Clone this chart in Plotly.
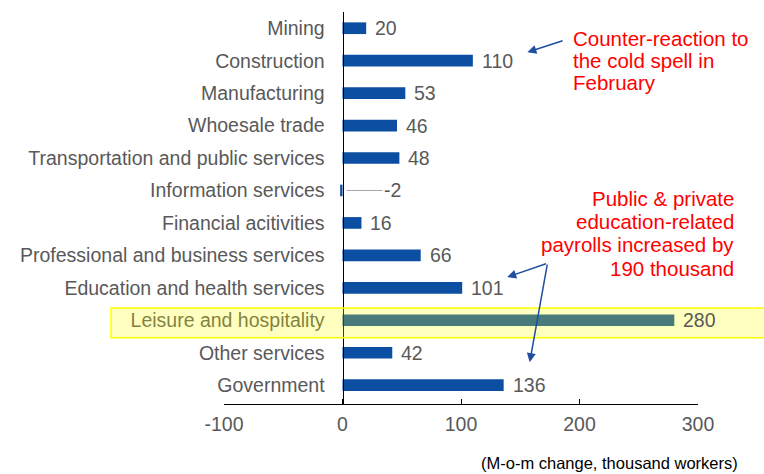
import plotly.graph_objects as go

categories = ["Mining", "Construction", "Manufacturing", "Whoesale trade",
              "Transportation and public services", "Information services",
              "Financial acitivities", "Professional and business services",
              "Education and health services", "Leisure and hospitality",
              "Other services", "Government"]
values = [20, 110, 53, 46, 48, -2, 16, 66, 101, 280, 42, 136]
x_ticks = [-100, 0, 100, 200, 300]
x_tick_labels = ["-100", "0", "100", "200", "300"]
highlight = "Leisure and hospitality"
note_cold_lines = ["Counter-reaction to", "the cold spell in", "February"]
note_edu_lines = ["Public & private", "education-related",
                  "payrolls increased by", "190 thousand"]
axis_note = "(M-o-m change, thousand workers)"

FONT = "Liberation Sans, Arial, sans-serif"
GREY = "#595959"
BLUE = "#0B4EA2"
ARROW = "#1F4E9F"

L, R, T, B = 224, 66, 12, 70
W, H = 764, 474
pw, ph = W - L - R, H - T - B

fig = go.Figure(go.Bar(
    x=values, y=categories, orientation="h",
    marker=dict(color=BLUE, line=dict(width=0)),
    width=0.36, hoverinfo="skip"))

annotations = []
for c, v in zip(categories, values):
    if v >= 0:
        annotations.append(dict(x=v, y=c, xref="x", yref="y", text=str(v),
                                showarrow=False, xanchor="left", xshift=7,
                                font=dict(size=19.5, color=GREY, family=FONT)))
    else:
        annotations.append(dict(x=0, y=c, xref="x", yref="y", text=str(v),
                                showarrow=True, arrowhead=0, arrowwidth=1,
                                arrowcolor="#A6A6A6", ax=50, ay=0, standoff=4,
                                font=dict(size=19.5, color=GREY, family=FONT)))

# red notes, one annotation per line to keep the tight line spacing
cold_y0, cold_dy = 0.31, 0.68
for i, line in enumerate(note_cold_lines):
    annotations.append(dict(x=193, y=cold_y0 + i * cold_dy, xref="x", yref="y",
                            text=line, showarrow=False, xanchor="left",
                            yanchor="middle",
                            font=dict(size=20.5, color="#FF0000", family=FONT)))
edu_y0, edu_dy = 5.24, 0.72
for i, line in enumerate(note_edu_lines):
    annotations.append(dict(x=(736 - L) / pw, y=edu_y0 + i * edu_dy,
                            xref="paper", yref="y",
                            text=line, showarrow=False, xanchor="right",
                            yanchor="middle",
                            font=dict(size=20.5, color="#FF0000", family=FONT)))

annotations += [
    dict(x=156, y=0.74, ax=187, ay=0.37, xref="x", yref="y", axref="x", ayref="y",
         text="", showarrow=True, arrowhead=2, arrowsize=1.2, arrowwidth=1.5,
         arrowcolor=ARROW),
    dict(x=139, y=7.67, ax=173, ay=7.24, xref="x", yref="y", axref="x", ayref="y",
         text="", showarrow=True, arrowhead=2, arrowsize=1.2, arrowwidth=1.5,
         arrowcolor=ARROW),
    dict(x=158, y=10.29, ax=173, ay=7.24, xref="x", yref="y", axref="x", ayref="y",
         text="", showarrow=True, arrowhead=2, arrowsize=1.2, arrowwidth=1.5,
         arrowcolor=ARROW),
    dict(x=(740 - L) / pw, y=(H - B - 463) / ph, xref="paper", yref="paper",
         text=axis_note, showarrow=False, xanchor="right", yanchor="middle",
         font=dict(size=16.5, color="#000000", family=FONT)),
]

hi = categories.index(highlight)
shapes = [dict(type="rect", xref="paper", yref="y",
               x0=(111 - L) / pw, x1=(766 - L) / pw,
               y0=hi - 0.38, y1=hi + 0.54,
               fillcolor="rgba(255,255,0,0.25)",
               line=dict(color="#FFFF00", width=1.5), layer="above")]

fig.update_layout(
    width=W, height=H,
    margin=dict(l=L, r=R, t=T, b=B, autoexpand=False),
    paper_bgcolor="white", plot_bgcolor="white",
    showlegend=False,
    font=dict(family=FONT, color=GREY),
    annotations=annotations, shapes=shapes,
    xaxis=dict(range=[-100, 300], tickvals=x_ticks, ticktext=x_tick_labels,
               showgrid=False,
               zeroline=False, showline=True, linecolor="#000000", linewidth=1,
               ticks="inside", ticklen=5, tickcolor="#000000",
               tickfont=dict(size=19.5, color=GREY, family=FONT),
               ticklabelstandoff=3, automargin=False, fixedrange=True),
    yaxis=dict(type="category", range=[11.58, -0.5], anchor="free", position=0.25,
               showgrid=False, zeroline=False, showline=True,
               linecolor="#000000", linewidth=1, ticks="",
               tickfont=dict(size=19.5, color=GREY, family=FONT),
               ticklabelstandoff=14, automargin=False, fixedrange=True),
)

fig.write_html("out.html", config={"displayModeBar": False},
               post_script="document.body.style.margin='0';"
                           "document.body.style.overflow='hidden';")
